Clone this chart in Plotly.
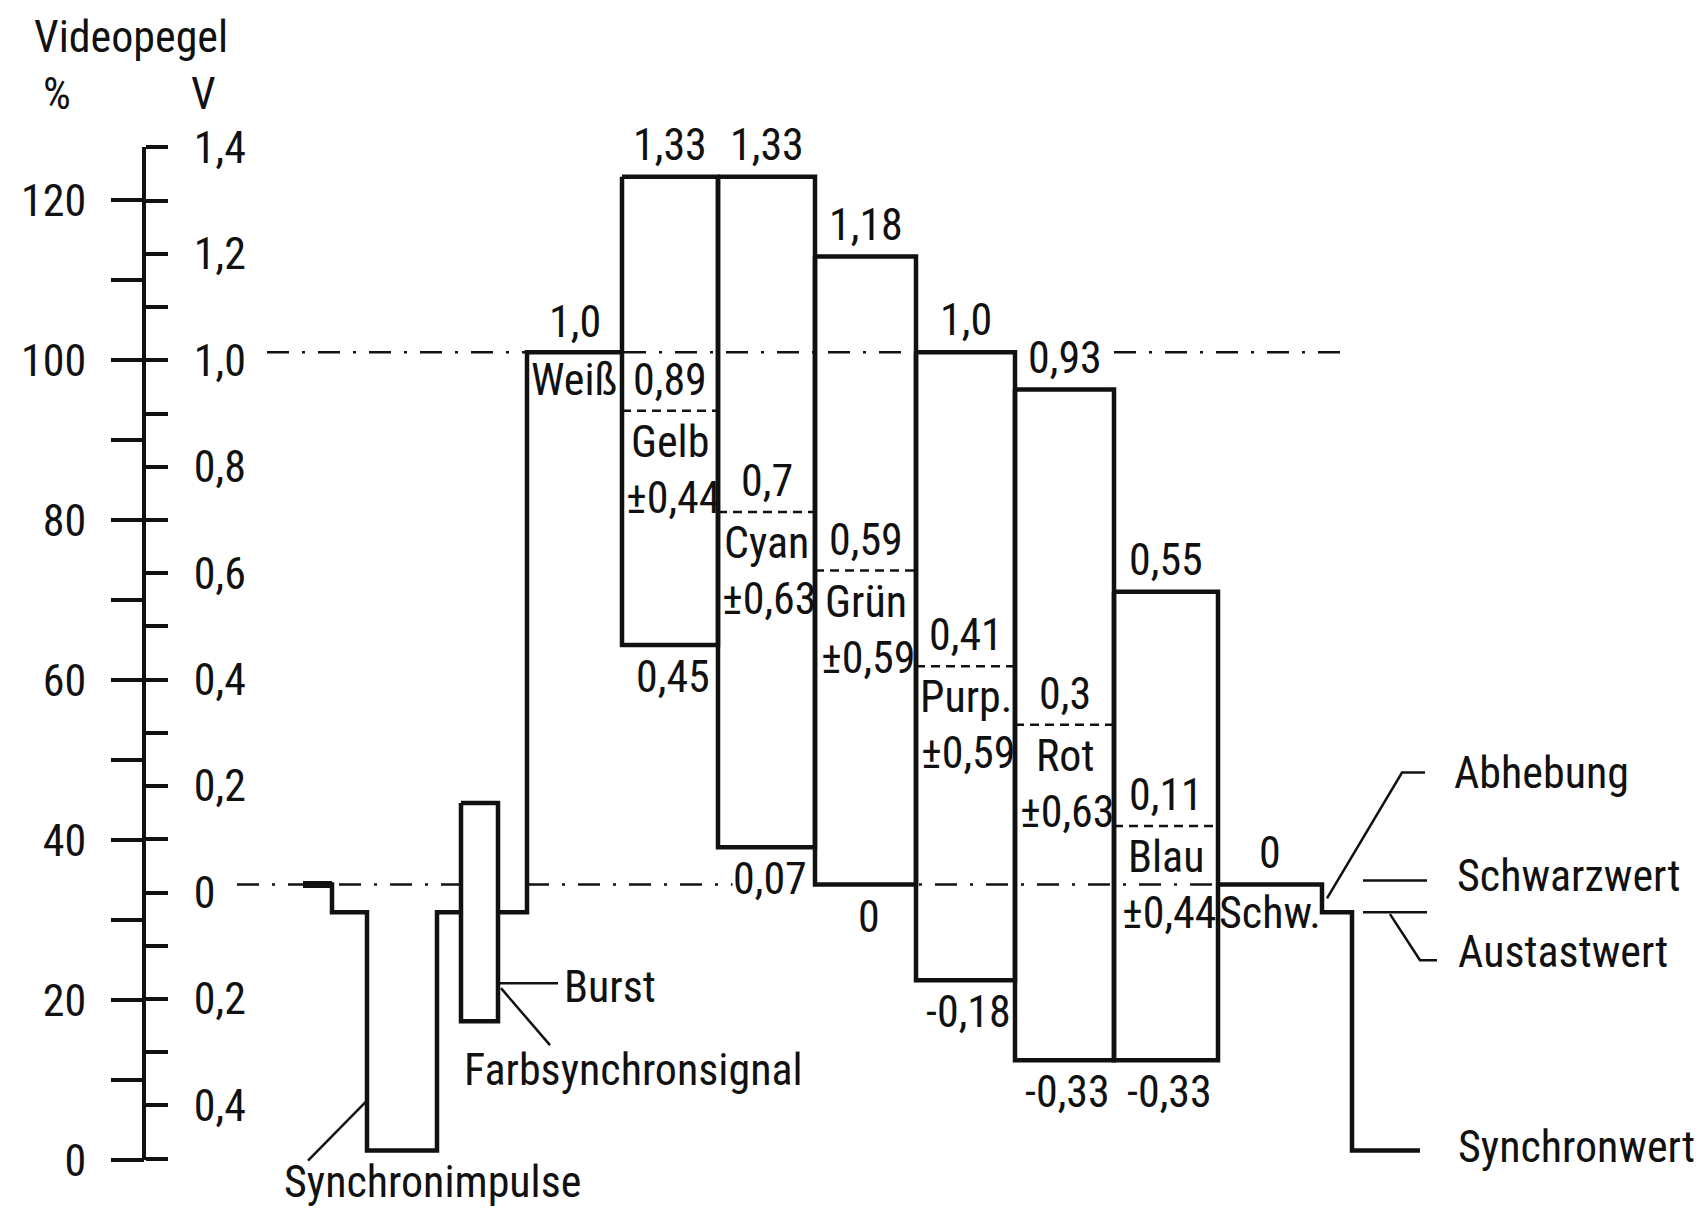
import plotly.graph_objects as go

# ---------------- data ----------------
# left ruler
pct_ticks = [0, 10, 20, 30, 40, 50, 60, 70, 80, 90, 100, 110, 120]
pct_labels = ["0", "", "20", "", "40", "", "60", "", "80", "", "100", "", "120"]
volt_ticks = [-0.5, -0.4, -0.3, -0.2, -0.1, 0.0, 0.1, 0.2, 0.3, 0.4, 0.5,
              0.6, 0.7, 0.8, 0.9, 1.0, 1.1, 1.2, 1.3, 1.4]
volt_labels = ["", "0,4", "", "0,2", "", "0", "", "0,2", "", "0,4", "",
               "0,6", "", "0,8", "", "1,0", "", "1,2", "", "1,4"]
volt_at_0pct = -0.503
volt_at_100pct = 1.0

# signal levels (V)
level_black = 0.0
level_blank = -0.052
level_sync = -0.50
burst_amplitude = 0.205

# time marks (arbitrary units)
t_line_start = 30.3
t_porch = 33.2
t_sync_start = 36.7
t_sync_end = 43.7
t_burst_start = 46.1
t_burst_end = 49.8
t_tail_sync = 135.2
t_line_end = 142.0

bar_names = ["Weiß", "Gelb", "Cyan", "Grün", "Purp.", "Rot", "Blau", "Schw."]
bar_edges = [52.7, 62.2, 71.8, 81.5, 91.6, 101.5, 111.4, 121.8, 132.2]
luma = [1.0, 0.89, 0.70, 0.59, 0.41, 0.30, 0.11, 0.0]
chroma = [0.0, 0.44, 0.63, 0.59, 0.59, 0.63, 0.44, 0.0]

# ---------------- layout constants ----------------
W, H = 1703, 1209
PX_PER_V = 532.2
SIG_ZERO_PX = 884.5
RULER_ZERO_PX = 892.5
X_RANGE = [0, 170.3]
Y_RANGE = [(SIG_ZERO_PX - H) / PX_PER_V, SIG_ZERO_PX / PX_PER_V]
RULER_X = 14.4

FONT = "Noto Sans Condensed, Roboto Condensed, Roboto, Liberation Sans, sans-serif"
FS = 44
FS_SIDE = 44
BLACK = "#111111"
SIG_W = 4.5
THIN = 2.5
DASHDOT = "22px,13px,3px,13px"
DASHED = "9px,6px"


def fmt(v):
    if abs(v) < 1e-9:
        return "0"
    s = f"{v:.2f}".rstrip("0")
    if s.endswith("."):
        s += "0"
    return s.replace(".", ",")


def up(v, px):
    """shift a level by px screen pixels (positive = up)"""
    return v + px / PX_PER_V


fig = go.Figure()


def add_line(xs, ys, width=SIG_W, dash="solid", fill=None, fillcolor=None):
    kw = {}
    if fill:
        kw = dict(fill=fill, fillcolor=fillcolor)
    fig.add_trace(go.Scatter(x=xs, y=ys, mode="lines",
                             line=dict(color=BLACK, width=width, dash=dash),
                             hoverinfo="skip", showlegend=False, **kw))


# reference lines (0 V and 1 V)
add_line([23.7, t_burst_start, None, bar_edges[0], bar_edges[-1]],
         [level_black, level_black, None, level_black, level_black],
         width=THIN, dash=DASHDOT)
add_line([26.7, bar_edges[5], None, bar_edges[6], 134.3],
         [luma[0], luma[0], None, luma[0], luma[0]], width=THIN, dash=DASHDOT)

# lead-in: black, blanking, sync, blanking, white
add_line([t_line_start, t_porch], [level_black, level_black], width=7)
add_line([t_line_start, t_porch, t_porch, t_sync_start, t_sync_start, t_sync_end,
          t_sync_end, bar_edges[0], bar_edges[0], bar_edges[1]],
         [level_black, level_black, level_blank, level_blank, level_sync, level_sync,
          level_blank, level_blank, luma[0], luma[0]])

# burst
b_top = level_blank + burst_amplitude
b_bot = level_blank - burst_amplitude
add_line([t_burst_start, t_burst_end, t_burst_end, t_burst_start, t_burst_start],
         [b_top, b_top, b_bot, b_bot, b_top], fill="toself", fillcolor="white")

# colour bars (envelopes) and luminance lines
bx, by, lx, ly = [], [], [], []
for i in range(1, 7):
    l, r = bar_edges[i], bar_edges[i + 1]
    top, bot = luma[i] + chroma[i], luma[i] - chroma[i]
    bx += [l, r, r, l, l, None]
    by += [top, top, bot, bot, top, None]
    lx += [l, r, None]
    ly += [luma[i], luma[i], None]
add_line(lx, ly, width=THIN, dash=DASHED)
add_line(bx, by)

# tail: black, blanking, sync
add_line([bar_edges[7], bar_edges[8], bar_edges[8], t_tail_sync, t_tail_sync, t_line_end],
         [luma[7], luma[7], level_blank, level_blank, level_sync, level_sync])

# invisible traces to bind ruler axes
fig.add_trace(go.Scatter(x=[None], y=[None], yaxis="y2", showlegend=False, hoverinfo="skip"))
fig.add_trace(go.Scatter(x=[None], y=[None], yaxis="y3", showlegend=False, hoverinfo="skip"))

# ---------------- annotations ----------------
ann = []


def label(x, y, text, yshift=0, xshift=0, xanchor="center", bg=None, xref="x", yref="y",
          size=FS):
    d = dict(x=x, y=y, text=text, xref=xref, yref=yref, showarrow=False,
             xanchor=xanchor, yanchor="middle", yshift=yshift, xshift=xshift,
             font=dict(family=FONT, size=size, color=BLACK), borderpad=0)
    if bg:
        d["bgcolor"] = bg
    ann.append(d)


cx = [(bar_edges[i] + bar_edges[i + 1]) / 2 for i in range(8)]
# white
label(cx[0], luma[0], fmt(luma[0]), yshift=30)
label(cx[0], luma[0], bar_names[0], yshift=-28)
# colour bars
for i in range(1, 7):
    top, bot = luma[i] + chroma[i], luma[i] - chroma[i]
    label(cx[i], top, fmt(top), yshift=32)
    label(cx[i], luma[i], fmt(luma[i]), yshift=31)
    label(cx[i], luma[i], bar_names[i], yshift=-31)
    label(cx[i], luma[i], "±" + fmt(chroma[i]), yshift=-87, xshift=3)
    label(cx[i], bot, fmt(bot), yshift=-32, xshift=3, bg="white")
# black
label(cx[7], luma[7], fmt(luma[7]), yshift=32)
label(cx[7], luma[7], bar_names[7], yshift=-28)

# left-hand labels
label(56.3, up(level_blank, -75), "Burst", xanchor="left")
label(46.3, up(level_blank, -158), "Farbsynchronsignal", xanchor="left")
label(28.3, up(level_sync, -31), "Synchronimpulse", xanchor="left")
# right-hand labels
label(145.3, up(level_black, 112), "Abhebung", xanchor="left", size=FS_SIDE)
label(145.6, up(level_black, 9), "Schwarzwert", xanchor="left", size=FS_SIDE)
label(145.7, up(level_blank, -40), "Austastwert", xanchor="left", size=FS_SIDE)
label(145.7, up(level_sync, 4), "Synchronwert", xanchor="left", size=FS_SIDE)

# header
label(33 / W, 1 - 37 / H, "Videopegel", xanchor="left", xref="paper", yref="paper")
label(57 / W, 1 - 94 / H, "%", xref="paper", yref="paper")
label(203 / W, 1 - 94 / H, "V", xref="paper", yref="paper")

# ---------------- leader lines ----------------
shapes = []


def path(points):
    d = "M " + " L ".join(f"{x},{y}" for x, y in points)
    shapes.append(dict(type="path", path=d, xref="x", yref="y",
                       line=dict(color=BLACK, width=THIN)))


path([(t_burst_end, up(level_blank, -71)), (55.8, up(level_blank, -71))])
path([(t_burst_end + 0.3, up(level_blank, -76)), (55.0, up(level_blank, -133))])
path([(t_sync_start, up(level_sync, 50)), (30.8, up(level_sync, -10))])
path([(bar_edges[8] + 0.5, (level_black + level_blank) / 2),
      (140.2, up(level_black, 112)), (142.5, up(level_black, 112))])
path([(136.3, up(level_black, 4)), (142.7, up(level_black, 4))])
path([(136.3, level_blank), (142.7, level_blank)])
path([(139.0, up(level_blank, -2)), (142.0, up(level_blank, -48)), (143.7, up(level_blank, -48))])

# ---------------- axes ----------------
def ruler_frac(v):
    return 1 - (RULER_ZERO_PX - PX_PER_V * v) / H


def pct(v):
    return (v - volt_at_0pct) / (volt_at_100pct - volt_at_0pct) * 100


r_lo, r_hi = volt_at_0pct - 0.0005, 1.4005
dom = [ruler_frac(r_lo), ruler_frac(r_hi)]
pos = (RULER_X - X_RANGE[0]) / (X_RANGE[1] - X_RANGE[0])
tickfont = dict(family=FONT, size=FS, color=BLACK)

fig.update_layout(
    template="none",
    width=W, height=H,
    margin=dict(l=0, r=0, t=0, b=0, pad=0),
    paper_bgcolor="white", plot_bgcolor="rgba(0,0,0,0)",
    showlegend=False,
    font=dict(family=FONT, size=FS, color=BLACK),
    xaxis=dict(range=X_RANGE, domain=[0, 1], visible=False, fixedrange=True, automargin=False),
    yaxis=dict(range=Y_RANGE, domain=[0, 1], visible=False, fixedrange=True, automargin=False),
    yaxis2=dict(domain=dom, range=[r_lo, r_hi], anchor="free", position=pos, side="right",
                showline=True, linecolor=BLACK, linewidth=4, ticks="outside", ticklen=22,
                tickwidth=3.5, tickcolor=BLACK, tickvals=volt_ticks, ticktext=volt_labels,
                tickfont=tickfont, ticklabelstandoff=17, showgrid=False, zeroline=False,
                fixedrange=True, automargin=False),
    yaxis3=dict(domain=dom, range=[pct(r_lo), pct(r_hi)], anchor="free", position=pos,
                side="left", showline=False, ticks="outside", ticklen=33, tickwidth=3.5,
                tickcolor=BLACK, tickvals=pct_ticks, ticktext=pct_labels, tickfont=tickfont,
                ticklabelstandoff=16, showgrid=False, zeroline=False, fixedrange=True,
                automargin=False),
    annotations=ann,
    shapes=shapes,
)

fig.write_html("out.html", config={"displayModeBar": False},
               post_script="document.body.style.margin='0px';")
